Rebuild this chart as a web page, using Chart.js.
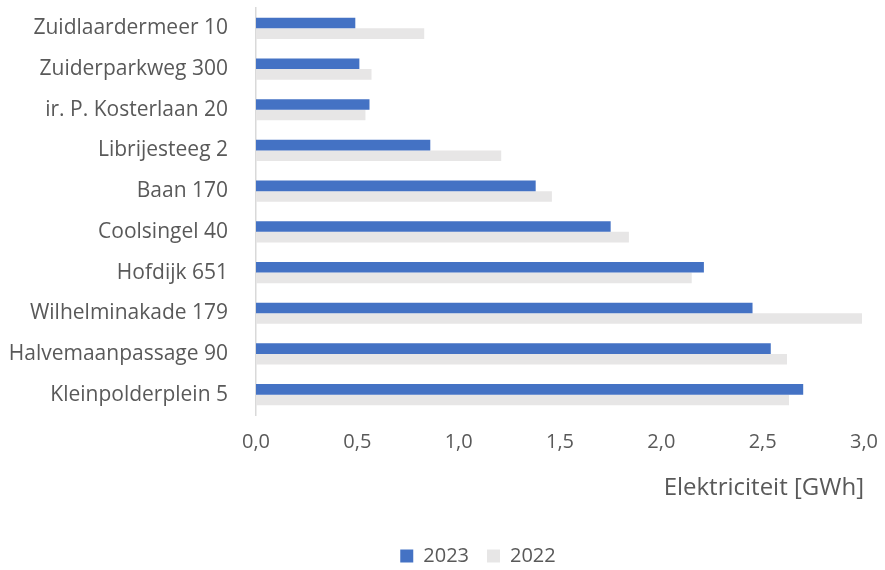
<!DOCTYPE html>
<html>
<head>
<meta charset="utf-8">
<script src="https://cdn.jsdelivr.net/npm/chart.js@4.4.1/dist/chart.umd.min.js"></script>
<style>
  html, body { margin: 0; padding: 0; background: #ffffff; overflow: hidden; }
  #wrap { width: 885px; height: 570px; position: relative; overflow: hidden; }
</style>
</head>
<body>
<div id="wrap"><canvas id="c" width="885" height="576"></canvas></div>
<script>
// Locations (top to bottom)
const locaties = [
  'Zuidlaardermeer 10',
  'Zuiderparkweg 300',
  'ir. P. Kosterlaan 20',
  'Librijesteeg 2',
  'Baan 170',
  'Coolsingel 40',
  'Hofdijk 651',
  'Wilhelminakade 179',
  'Halvemaanpassage 90',
  'Kleinpolderplein 5'
];

// Electricity use in GWh
const verbruik2023 = [0.49, 0.51, 0.56, 0.86, 1.38, 1.75, 2.21, 2.45, 2.54, 2.70];
const verbruik2022 = [0.83, 0.57, 0.54, 1.21, 1.46, 1.84, 2.15, 2.99, 2.62, 2.63];

const xTicks = [0, 0.5, 1.0, 1.5, 2.0, 2.5, 3.0];
const asTitel = 'Elektriciteit [GWh]';

const FONT = '"Open Sans"';
const TEXT = '#595959';
const PLOT_LEFT = 256;
const PLOT_BOTTOM = 415;

// Centre the legend under the plot area rather than under the whole canvas
const legendUnderPlot = {
  id: 'legendUnderPlot',
  afterLayout(chart) {
    const lg = chart.legend;
    if (!lg) return;
    const target = (chart.chartArea.left + chart.chartArea.right) / 2 - 82;
    const shift = target - (lg.left + lg.right) / 2;
    lg.left += shift;
    lg.right += shift;
  }
};

new Chart(document.getElementById('c'), {
  type: 'bar',
  data: {
    labels: locaties,
    datasets: [
      { label: '2023', data: verbruik2023, backgroundColor: '#4472C4' },
      { label: '2022', data: verbruik2022, backgroundColor: '#E7E6E6' }
    ]
  },
  plugins: [legendUnderPlot],
  options: {
    indexAxis: 'y',
    responsive: false,
    animation: false,
    devicePixelRatio: 1,
    categoryPercentage: 0.52,
    barPercentage: 1.0,
    layout: { padding: { top: 8, right: 21, bottom: 0, left: 0 } },
    plugins: {
      tooltip: { enabled: false },
      legend: {
        position: 'bottom',
        labels: {
          color: TEXT,
          font: { family: FONT, size: 20 },
          boxWidth: 13,
          boxHeight: 13,
          padding: 18
        }
      }
    },
    scales: {
      x: {
        min: 0,
        max: 3,
        afterBuildTicks: (s) => { s.ticks = xTicks.map(v => ({ value: v })); },
        afterFit: (s) => {
          s.paddingLeft = 0;
          s.paddingRight = 0;
          const lg = s.chart.legend ? s.chart.legend.height : 0;
          s.height = s.chart.height - PLOT_BOTTOM - lg;
        },
        grid: { display: false, drawTicks: false },
        border: { display: false },
        ticks: {
          color: TEXT,
          font: { family: FONT, size: 20 },
          padding: 15,
          callback: (v) => Number(v).toFixed(1).replace('.', ',')
        },
        title: {
          display: true,
          text: asTitel,
          align: 'end',
          color: TEXT,
          font: { family: FONT, size: 24 },
          padding: { top: 4, bottom: 25 }
        }
      },
      y: {
        grid: { display: false, drawTicks: false },
        border: { display: true, color: '#D9D9D9', width: 1.5 },
        afterFit: (s) => {
          s.width = PLOT_LEFT;
          s.paddingTop = 0;
          s.paddingBottom = 0;
        },
        ticks: {
          color: TEXT,
          font: { family: FONT, size: 21 },
          padding: 28
        }
      }
    }
  }
});
</script>
</body>
</html>
